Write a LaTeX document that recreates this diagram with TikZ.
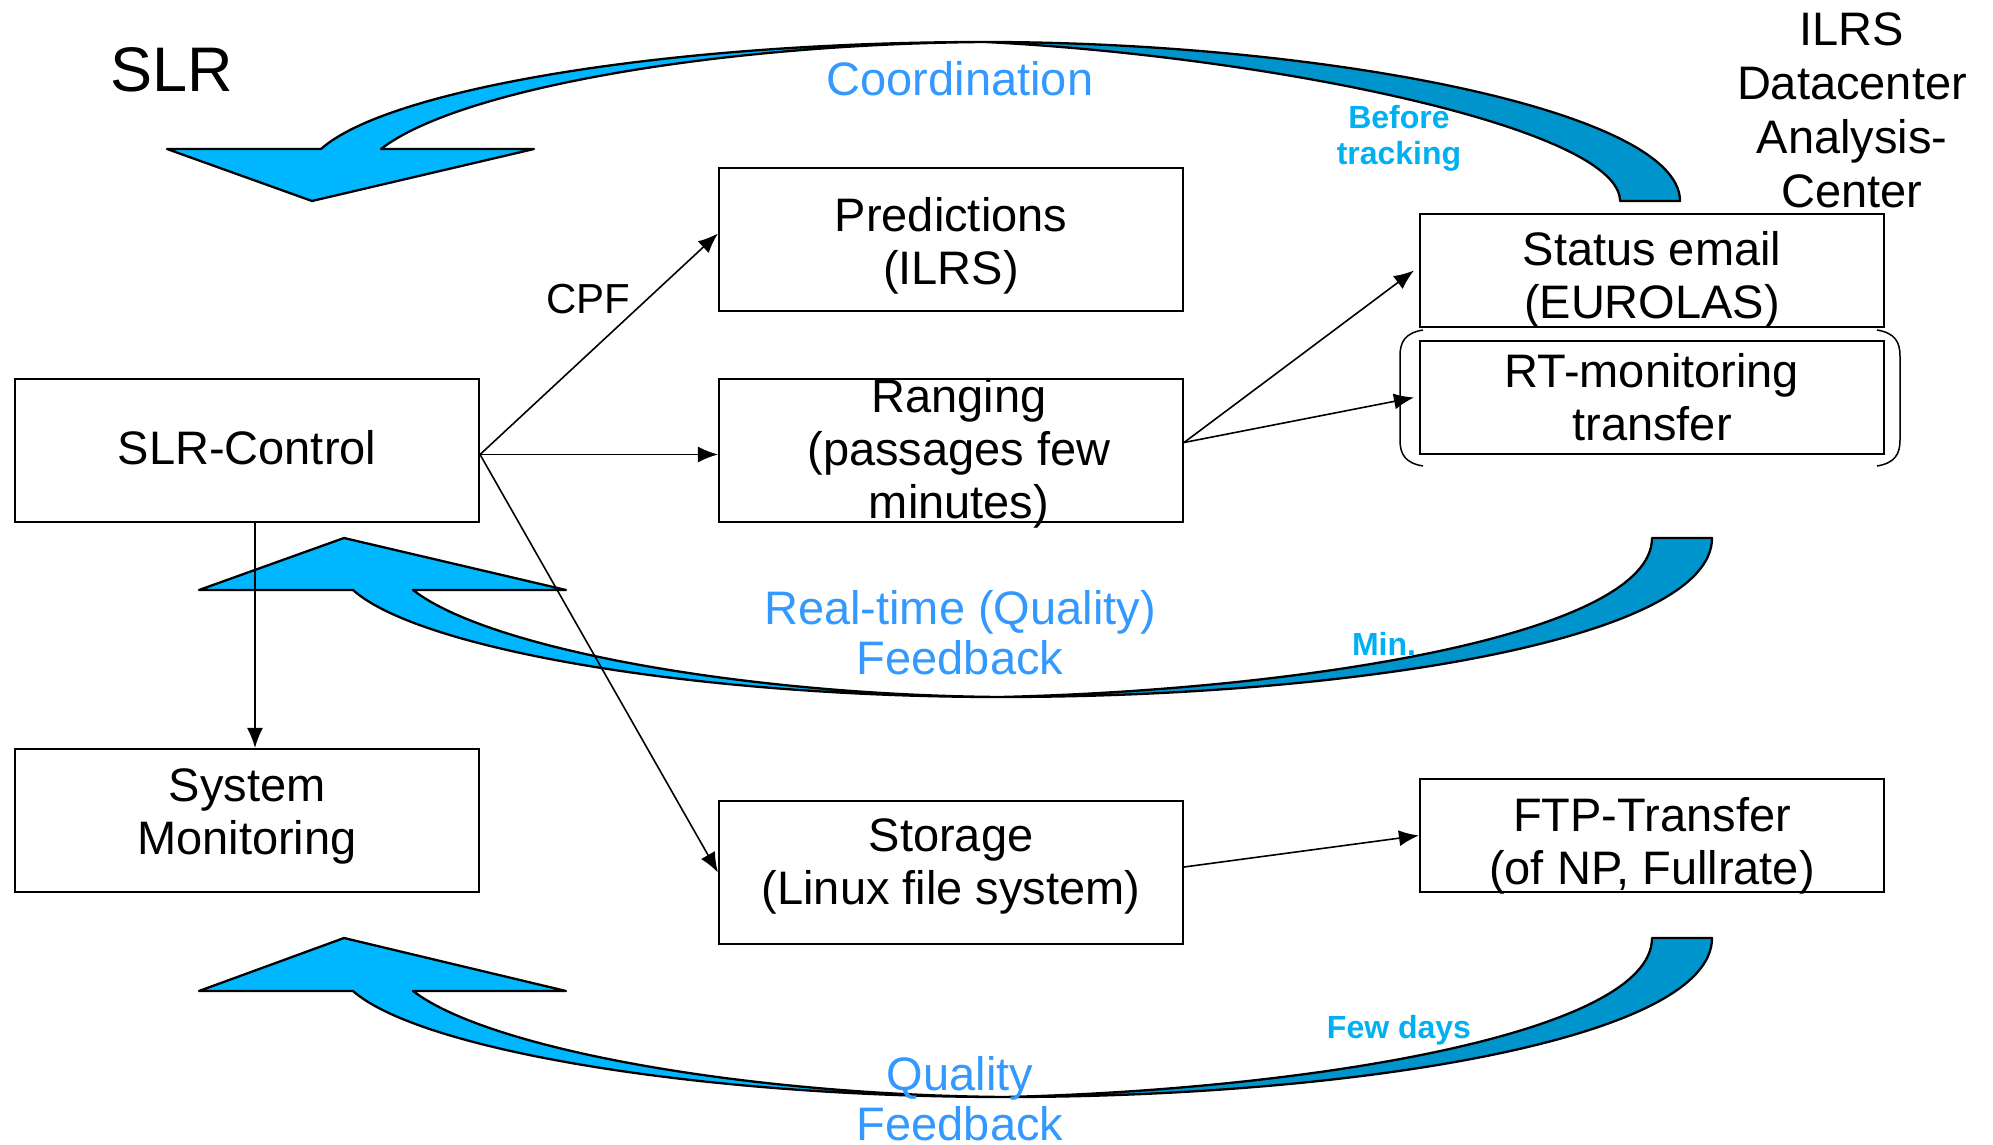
\documentclass[tikz,border=0pt]{standalone}
\usepackage{fontspec}
\setmainfont{Liberation Sans}
\usetikzlibrary{arrows.meta}
\definecolor{lightarrow}{RGB}{0,183,255}
\definecolor{darkarrow}{RGB}{0,148,204}
\definecolor{labelblue}{RGB}{51,153,255}
\definecolor{smallblue}{RGB}{0,176,240}
\begin{document}
\begin{tikzpicture}[x=0.5pt,y=-0.5pt,
  box/.style={draw=black, line width=1.05pt, minimum width=232pt, minimum height=71.5pt, inner sep=0pt},
  flatbox/.style={box, minimum height=56.5pt},
  boxtext/.style={inner sep=0pt, align=center, font=\fontsize{23.5}{26.5}\selectfont},
  conn/.style={-{Latex[length=10pt,width=8pt]}, line width=0.8pt},
  lightband/.style={draw=black, line width=1.15pt, line join=round, fill=lightarrow},
  darkband/.style={draw=black, line width=1.15pt, line join=round, fill=darkarrow},
  bigtext/.style={font=\fontsize{23.5}{26.5}\selectfont, align=center},
  bluetext/.style={bigtext, text=labelblue},
  smalltext/.style={font=\bfseries\fontsize{16}{18}\selectfont, text=smallblue, align=center},
]
\useasboundingbox (0,0) rectangle (1993,1145);

% ---- top curved arrow (Coordination)
\draw[darkband] (985,42) .. controls (1318,42) and (1680,110) .. (1680,201) -- (1620,201) .. controls (1620,128) and (1268,56) .. (985,42) -- cycle;
\draw[lightband] (167,149) -- (312,201) -- (534,149) -- (381,149) .. controls (458,89) and (718,44) .. (985,42) .. controls (668,42) and (388,89) .. (321,149) -- cycle;

% ---- middle curved arrow (Real-time feedback)
\draw[darkband] (1000,697) .. controls (1350,697) and (1712,640) .. (1712,538) -- (1652,538) .. controls (1652,635) and (1300,690) .. (1000,697) -- cycle;
\draw[lightband] (199,590) -- (344,538) -- (566,590) -- (413,590) .. controls (490,650) and (750,695) .. (1000,697) .. controls (700,697) and (420,650) .. (353,590) -- cycle;

% ---- bottom curved arrow (Quality feedback)
\draw[darkband] (1005,1097) .. controls (1350,1097) and (1712,1040) .. (1712,938) -- (1652,938) .. controls (1652,1035) and (1300,1090) .. (1005,1097) -- cycle;
\draw[lightband] (199,991) -- (344,938) -- (566,991) -- (413,991) .. controls (490,1050) and (750,1095) .. (1005,1097) .. controls (700,1097) and (420,1050) .. (353,991) -- cycle;

% ---- boxes
\node[box] (slr) at (247,450.5) {};
\node[box] (sysmon) at (247,820.5) {};
\node[box] (pred) at (951,239.5) {};
\node[box] (rang) at (951,450.5) {};
\node[box] (stor) at (951,872.5) {};
\node[flatbox] (status) at (1652,270.5) {};
\node[flatbox] (rt) at (1652,397.5) {};
\node[flatbox] (ftp) at (1652,835.5) {};

\node[boxtext] (slrtext) at ([yshift=1.2pt]slr.center) {SLR-Control};
\node[boxtext] (sysmontext) at ([yshift=2pt]sysmon.center) {System\\Monitoring};
\node[boxtext] (predtext) at ([yshift=-3pt]pred.center) {Predictions\\(ILRS)};
\node[boxtext] (rangtext) at ([xshift=4pt,yshift=-1.2pt]rang.center) {Ranging\\(passages few\\minutes)};
\node[boxtext] (stortext) at ([yshift=3pt]stor.center) {Storage\\(Linux file system)};
\node[boxtext] (statustext) at ([yshift=-4.5pt]status.center) {Status email\\(EUROLAS)};
\node[boxtext] (rttext) at (rt.center) {RT-monitoring\\transfer};
\node[boxtext] (ftptext) at ([yshift=-5pt]ftp.center) {FTP-Transfer\\(of NP, Fullrate)};

% bracket around RT-monitoring
\draw[line width=0.75pt] (1423,330) .. controls (1405,333) and (1400,342) .. (1400,356) -- (1400,440) .. controls (1400,454) and (1405,463) .. (1423,466);
\draw[line width=0.75pt] (1877,330) .. controls (1895,333) and (1900,342) .. (1900,356) -- (1900,440) .. controls (1900,454) and (1895,463) .. (1877,466);

% ---- connectors
\draw[conn] ([yshift=-2pt]slr.east) -- ([yshift=3pt]pred.west);
\draw[conn] ([yshift=-2pt]slr.east) -- ([yshift=-2pt]rang.west);
\draw[conn] ([yshift=-2pt]slr.east) -- (stor.west);
\draw[conn] ([xshift=4pt]slr.south) -- ([xshift=4pt]sysmon.north);
\draw[conn] ([yshift=4pt]rang.east) -- ([xshift=-2.5pt]status.west);
\draw[conn] ([yshift=4pt]rang.east) -- ([xshift=-2.5pt]rt.west);
\draw[conn] ([yshift=2.75pt]stor.east) -- (ftp.west);

% ---- labels
\node[font=\fontsize{31.5}{35}\selectfont] (slrtitle) at (172,70) {SLR};
\node[bigtext, font=\fontsize{23.5}{27}\selectfont] (ilrs) at (1852,110) {ILRS\\Datacenter\\Analysis-\\Center};
\node[font=\fontsize{21}{24}\selectfont] (cpf) at (588,299) {CPF};
\node[bluetext] (coord) at (960,79) {Coordination};
\node[smalltext] (before) at (1399,138) {Before\\tracking};
\node[bluetext, font=\fontsize{23.5}{25}\selectfont] (rtfb) at (960,633) {Real-time (Quality)\\Feedback};
\node[smalltext] (min) at (1384,644) {Min.};
\node[smalltext] (fewdays) at (1399,1030) {Few days};
\node[bluetext, font=\fontsize{23.5}{25}\selectfont] (qfb) at (960,1099) {Quality\\Feedback};
\end{tikzpicture}
\end{document}
